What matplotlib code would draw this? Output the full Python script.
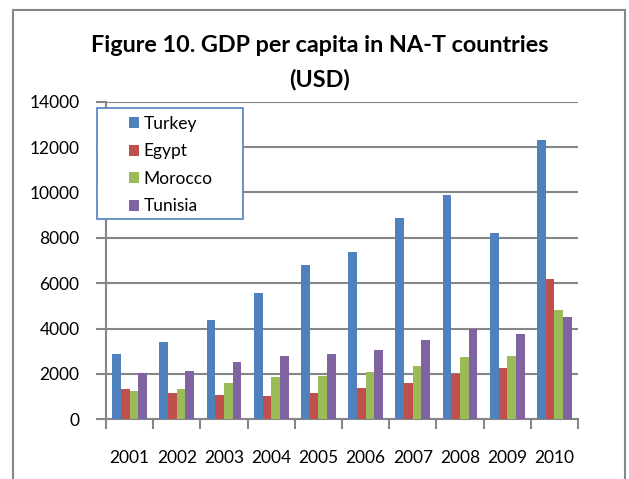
import numpy as np
import matplotlib.pyplot as plt
from matplotlib.patches import Rectangle

years = ['2001', '2002', '2003', '2004', '2005', '2006', '2007', '2008', '2009', '2010']
turkey = [2900, 3400, 4360, 5560, 6780, 7360, 8870, 9890, 8220, 12300]
egypt = [1340, 1180, 1090, 1020, 1150, 1370, 1620, 2000, 2270, 6200]
morocco = [1250, 1340, 1620, 1850, 1910, 2090, 2370, 2760, 2810, 4810]
tunisia = [2040, 2130, 2530, 2810, 2870, 3060, 3490, 3970, 3780, 4490]

series = [('Turkey', turkey, '#4F81BD'), ('Egypt', egypt, '#C0504D'),
          ('Morocco', morocco, '#9BBB59'), ('Tunisia', tunisia, '#8064A2')]

plt.rcParams['font.family'] = ['Lato', 'DejaVu Sans']
W, H = 629, 479

fig = plt.figure(figsize=(6.29, 4.79), dpi=100)
ax = fig.add_axes([106/W, 1 - 419.3/H, 472/W, 317.6/H])

# outer chart frame
fig.patches.append(Rectangle((13/W, -0.05), 612/W, 1 - 10/H + 0.05,
                             transform=fig.transFigure, fill=False,
                             edgecolor='#868686', linewidth=1.5))

x = np.arange(len(years))
w = 0.184
for i, (name, vals, col) in enumerate(series):
    ax.bar(x + (i - 1.5) * w, vals, w, color=col, label=name, zorder=3)

ax.set_xlim(-0.5, len(years) - 0.5)
ax.set_ylim(0, 14000)
ax.set_yticks(np.arange(0, 14001, 2000))
ax.yaxis.grid(True, color='#868686', linewidth=1.5, zorder=0)
ax.set_xticks(np.arange(-0.5, len(years), 1.0))
ax.set_xticklabels([])
ax.set_xticks(x, minor=True)
ax.set_xticklabels(years, minor=True)
ax.tick_params(axis='x', which='major', length=7, width=1.5, color='#868686', direction='out')
ax.tick_params(axis='x', which='minor', length=0, pad=22, labelsize=12.5)
ax.tick_params(axis='y', length=7, width=1.5, color='#868686', labelsize=12.5, pad=12)
for s in ['top', 'right']:
    ax.spines[s].set_visible(False)
for s in ['left', 'bottom']:
    ax.spines[s].set_color('#868686')
    ax.spines[s].set_linewidth(1.5)

fig.text(320/W, 1 - 46/H, 'Figure 10. GDP per capita in NA-T countries',
         ha='center', va='center', fontsize=16.8, fontweight='bold')
fig.text(320/W, 1 - 79/H, '(USD)', ha='center', va='center',
         fontsize=16.8, fontweight='bold')

# legend box
fig.patches.append(Rectangle((97/W, 1 - 219/H), 146/W, 111/H,
                             transform=fig.transFigure, facecolor='white',
                             edgecolor='#4F81BD', linewidth=1.2, zorder=5))
leg = fig.legend(loc='upper left', bbox_to_anchor=(129/W, 1 - 116/H),
                 fontsize=12.5, handlelength=0.58, handleheight=0.58,
                 labelspacing=0.66, borderpad=0, borderaxespad=0,
                 handletextpad=0.25, frameon=False)
leg.set_zorder(6)

fig.savefig('out.png', dpi=100)
